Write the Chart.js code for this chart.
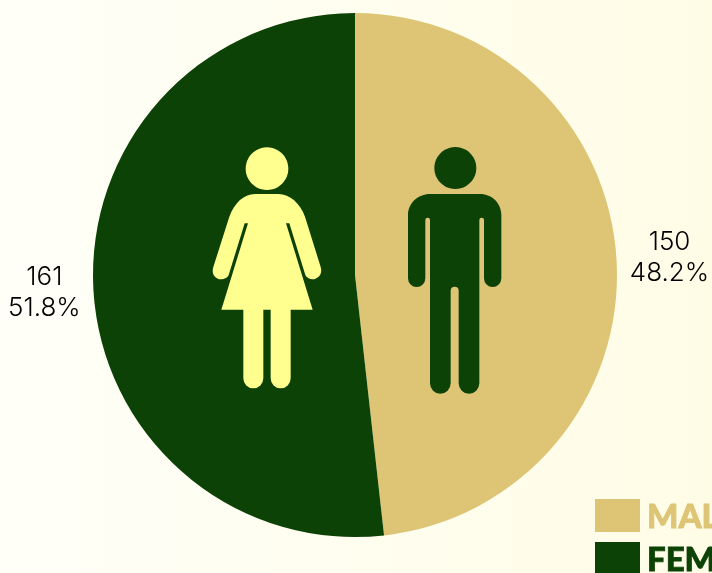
<!DOCTYPE html>
<html>
<head>
<meta charset="utf-8">
<title>Gender split</title>
<script src="https://cdn.jsdelivr.net/npm/chart.js@4/dist/chart.umd.min.js"></script>
<style>
  html, body { margin: 0; padding: 0; }
  body { width: 712px; height: 573px; overflow: hidden; position: relative;
         background: linear-gradient(to right, #fffff8, #fffce6); }
  canvas { position: absolute; left: 0; top: 0; }
  .key { position: absolute; left: 595px; white-space: nowrap; display: flex; align-items: center;
         font-family: Lato, sans-serif; font-weight: 900; font-size: 33px; line-height: 33px; }
  .key i { display: block; width: 45px; height: 33px; margin-right: 7px; }
  .key span { -webkit-text-stroke: 0.8px currentColor; }
</style>
</head>
<body>
<canvas id="pie" width="712" height="573"></canvas>
<div class="key" id="key0" style="top:499px"></div>
<div class="key" id="key1" style="top:542px"></div>
<script>
const categories = ['MALE', 'FEMALE'];
const counts = [150, 161];
const percents = ['48.2%', '51.8%'];
const colours = ['#ddc575', '#0d4207'];
const womanColour = '#ffff8f';

// figure outlines, traced at 3x from the picture (origin 200,140)
const womanPath = 'M201 22a64 64 0 1 1-.01 0Z' +
    'M165 162H235C270 162 300 190 315 230L362 381C370 405 350 418 338 418C328 418 319 412 316 405L268 250H258L338 509H272V715a30 30 0 0 1-60 0V509H190V715a30 30 0 0 1-60 0V509H64L144 250H134L86 405C83 412 74 418 62 418C50 418 32 405 40 381L88 230C103 190 130 162 165 162Z';
const manPath = 'M766 21a63 63 0 1 1-.01 0Z' +
    'M690 162H840C876 162 904 190 904 225V415a26 26 0 0 1-52 0V240a7 7 0 0 0-14 0V730a31 31 0 0 1-62 0V452a12 12 0 0 0-24 0V730a31 31 0 0 1-62 0V240a7 7 0 0 0-14 0V415a26 26 0 0 1-52 0V225C624 190 654 162 690 162Z';

const figures = {
    id: 'figures',
    afterDatasetsDraw(chart) {
        const ctx = chart.ctx;
        ctx.save();
        ctx.translate(200, 140);
        ctx.scale(1 / 3, 1 / 3);
        ctx.fillStyle = womanColour;
        ctx.fill(new Path2D(womanPath));
        ctx.fillStyle = colours[1];
        ctx.fill(new Path2D(manPath));
        ctx.restore();
    }
};

// count and percent outside each slice
const sliceLabels = {
    id: 'sliceLabels',
    afterDraw(chart) {
        const ctx = chart.ctx;
        ctx.save();
        ctx.font = '300 26px Inter, sans-serif';
        ctx.fillStyle = '#000000';
        ctx.textAlign = 'center';
        ctx.textBaseline = 'middle';
        chart.getDatasetMeta(0).data.forEach((arc, i) => {
            const mid = (arc.startAngle + arc.endAngle) / 2;
            const dist = arc.outerRadius + 53;
            let x = arc.x + Math.cos(mid) * dist;
            const y = arc.y + Math.sin(mid) * dist;
            const half = ctx.measureText(percents[i]).width / 2;
            x = Math.max(x, half + 8);
            ctx.fillText(String(counts[i]), x, y - 15);
            ctx.fillText(percents[i], x, y + 16);
        });
        ctx.restore();
    }
};

new Chart(document.getElementById('pie'), {
    type: 'pie',
    data: {
        labels: categories,
        datasets: [{
            data: counts,
            backgroundColor: colours,
            borderWidth: 0
        }]
    },
    options: {
        responsive: false,
        animation: false,
        layout: { padding: { left: 93, right: 95, top: 13, bottom: 36 } },
        plugins: { legend: { display: false }, tooltip: { enabled: false } }
    },
    plugins: [figures, sliceLabels]
});

categories.forEach((name, i) => {
    const row = document.getElementById('key' + i);
    const box = document.createElement('i');
    box.style.background = colours[i];
    row.appendChild(box);
    const text = document.createElement('span');
    text.textContent = name;
    text.style.color = colours[i];
    row.appendChild(text);
});
</script>
</body>
</html>
